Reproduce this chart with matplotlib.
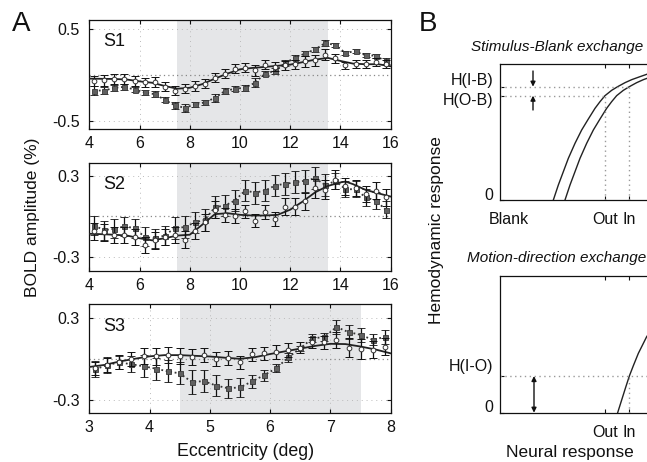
import matplotlib
matplotlib.use("Agg")
import matplotlib.pyplot as plt
import numpy as np

plt.rcParams['font.family'] = ['Liberation Sans', 'DejaVu Sans']

# ---------------- Panel A data ----------------
s1_x = [4.2, 4.6, 5.0, 5.4, 5.8, 6.2, 6.6, 7.0, 7.4, 7.8, 8.2, 8.6, 9.0, 9.4, 9.8,
        10.2, 10.6, 11.0, 11.4, 11.8, 12.2, 12.6, 13.0, 13.4, 13.8, 14.2, 14.6, 15.0, 15.4, 15.8]
s1_circ = [-0.066, -0.06, -0.044, -0.044, -0.066, -0.08, -0.077, -0.13, -0.17, -0.15,
           -0.12, -0.095, -0.03, 0.015, 0.07, 0.077, 0.05, 0.11, 0.09, 0.105,
           0.117, 0.15, 0.16, 0.22, 0.18, 0.105, 0.12, 0.12, 0.14, 0.12]
s1_circ_err = [0.06, 0.06, 0.05, 0.05, 0.05, 0.05, 0.05, 0.05, 0.05, 0.05,
               0.05, 0.05, 0.05, 0.05, 0.05, 0.05, 0.06, 0.05, 0.05, 0.05,
               0.05, 0.06, 0.06, 0.06, 0.05, 0.04, 0.04, 0.04, 0.04, 0.04]
s1_sq = [-0.17, -0.17, -0.14, -0.13, -0.16, -0.19, -0.21, -0.27, -0.33, -0.36,
         -0.32, -0.30, -0.25, -0.175, -0.15, -0.14, -0.085, 0.015, 0.045, 0.13,
         0.19, 0.235, 0.28, 0.35, 0.325, 0.24, 0.26, 0.215, 0.21, 0.15]
s1_sq_err = [0.05, 0.04, 0.03, 0.03, 0.03, 0.03, 0.03, 0.03, 0.04, 0.04,
             0.03, 0.03, 0.04, 0.03, 0.03, 0.03, 0.05, 0.03, 0.03, 0.03,
             0.03, 0.03, 0.03, 0.03, 0.02, 0.02, 0.02, 0.02, 0.02, 0.03]
s1_fit_x = [4.0, 4.5, 5.0, 5.5, 6.0, 6.5, 7.0, 7.5, 8.0, 8.5, 9.0, 9.5, 10.0, 10.5,
            11.0, 11.5, 12.0, 12.5, 13.0, 13.5, 14.0, 14.5, 15.0, 15.5, 16.0]
s1_fit = [-0.04, -0.042, -0.044, -0.05, -0.07, -0.085, -0.12, -0.15, -0.14, -0.10,
          -0.04, 0.015, 0.062, 0.077, 0.088, 0.10, 0.113, 0.14, 0.168, 0.186,
          0.153, 0.124, 0.117, 0.117, 0.095]

s2_x = s1_x
s2_circ = [-0.11, -0.117, -0.134, -0.134, -0.15, -0.21, -0.175, -0.15, -0.134, -0.17,
           -0.105, -0.044, 0.05, 0.012, 0.005, 0.037, -0.03, 0.032, -0.02, 0.073,
           0.073, 0.11, 0.207, 0.195, 0.27, 0.22, 0.207, 0.163, 0.19, 0.14]
s2_circ_err = [0.06, 0.06, 0.06, 0.06, 0.06, 0.06, 0.06, 0.06, 0.06, 0.06,
               0.06, 0.06, 0.06, 0.05, 0.05, 0.05, 0.05, 0.05, 0.05, 0.06,
               0.06, 0.06, 0.07, 0.07, 0.07, 0.06, 0.06, 0.06, 0.06, 0.06]
s2_sq = [-0.068, -0.10, -0.09, -0.073, -0.085, -0.15, -0.16, -0.14, -0.085, -0.078,
         -0.044, -0.024, 0.068, 0.08, 0.117, 0.19, 0.175, 0.19, 0.227, 0.24,
         0.25, 0.263, 0.28, 0.23, 0.26, 0.20, 0.20, 0.14, 0.117, 0.05]
s2_sq_err = [0.07, 0.07, 0.07, 0.07, 0.07, 0.07, 0.07, 0.07, 0.08, 0.08,
             0.08, 0.08, 0.08, 0.08, 0.08, 0.08, 0.08, 0.08, 0.08, 0.08,
             0.08, 0.08, 0.08, 0.08, 0.06, 0.06, 0.06, 0.06, 0.06, 0.06]
s2_fit_x = [4.0, 4.5, 5.0, 5.5, 6.0, 6.5, 7.0, 7.5, 8.0, 8.5, 9.0, 9.5, 10.0, 10.5,
            11.0, 11.5, 12.0, 12.5, 13.0, 13.5, 14.0, 14.2, 14.5, 15.0, 15.5, 16.0]
s2_fit = [-0.127, -0.13, -0.134, -0.14, -0.16, -0.175, -0.16, -0.14, -0.134, -0.06,
          0.017, 0.024, 0.012, 0.007, 0.007, 0.012, 0.05, 0.11, 0.178, 0.224,
          0.25, 0.256, 0.237, 0.195, 0.17, 0.146]

s3_x = [3.1, 3.3, 3.5, 3.7, 3.9, 4.1, 4.3, 4.5, 4.7, 4.9, 5.1, 5.3, 5.5, 5.7, 5.9,
        6.1, 6.3, 6.5, 6.7, 6.9, 7.1, 7.3, 7.5, 7.7, 7.9]
s3_circ = [-0.07, -0.045, -0.022, -0.002, 0.02, 0.017, 0.03, 0.022, 0.015, 0.027,
           -0.002, 0.007, -0.027, 0.032, 0.04, 0.052, 0.065, 0.08, 0.12, 0.12,
           0.14, 0.08, 0.072, 0.067, 0.09]
s3_circ_err = [0.05, 0.05, 0.05, 0.05, 0.06, 0.06, 0.06, 0.06, 0.06, 0.05,
               0.05, 0.05, 0.05, 0.05, 0.05, 0.05, 0.05, 0.04, 0.04, 0.05,
               0.06, 0.07, 0.07, 0.06, 0.06]
s3_sq = [-0.077, -0.045, -0.027, -0.04, -0.055, -0.072, -0.092, -0.107, -0.17, -0.164,
         -0.196, -0.216, -0.21, -0.166, -0.12, -0.07, 0.01, 0.077, 0.15, 0.16,
         0.233, 0.196, 0.176, 0.14, 0.16]
s3_sq_err = [0.06, 0.06, 0.05, 0.06, 0.08, 0.08, 0.08, 0.08, 0.09, 0.08,
             0.08, 0.07, 0.07, 0.05, 0.04, 0.03, 0.03, 0.02, 0.03, 0.03,
             0.05, 0.05, 0.05, 0.04, 0.05]
s3_fit_x = [3.0, 3.25, 3.5, 3.75, 4.0, 4.25, 4.5, 4.75, 5.0, 5.25, 5.5, 5.75, 6.0,
            6.25, 6.5, 6.75, 7.0, 7.25, 7.5, 7.75, 8.0]
s3_fit = [-0.06, -0.045, -0.02, 0.0, 0.018, 0.027, 0.027, 0.022, 0.017, 0.008, 0.0,
          0.012, 0.035, 0.055, 0.075, 0.095, 0.11, 0.108, 0.09, 0.068, 0.04]

subjects = ['S1', 'S2', 'S3']
xlims = [(4, 16), (4, 16), (3, 8)]
xticks_list = [[4, 6, 8, 10, 12, 14, 16], [4, 6, 8, 10, 12, 14, 16], [3, 4, 5, 6, 7, 8]]
ylims = [(-0.59, 0.6), (-0.4, 0.39), (-0.4, 0.4)]
yticks_list = [[-0.5, 0.5], [-0.3, 0.3], [-0.3, 0.3]]
ytick_labels = [['-0.5', '0.5'], ['-0.3', '0.3'], ['-0.3', '0.3']]
shade = [(7.5, 13.5), (7.5, 13.5), (4.5, 7.5)]

# ---------------- Panel B data ----------------
b_xticks = [0.45, 5.25, 6.467]
b_xlabels = ['Blank', 'Out', 'In']
curveA_x = [2.667, 2.917, 3.167, 3.417, 3.75, 4.083, 4.417, 4.75, 5.0, 5.25, 5.583,
            5.883, 6.25, 6.583, 7.0, 7.333, 8.083]
curveA_y = [0.0, 1.103, 2.083, 3.064, 4.167, 5.147, 5.956, 6.74, 7.23, 7.672, 8.064,
            8.333, 8.627, 8.848, 9.069, 9.24, 9.56]
curveB_x = [3.25, 3.5, 3.75, 4.0, 4.333, 4.667, 5.0, 5.333, 5.583, 5.833, 6.167,
            6.467, 6.833, 7.167, 7.583, 7.917, 8.667]
curveB_y = curveA_y
h_ob = 7.672
h_ib = 8.333
curveC_x = [5.883, 6.083, 6.283, 6.467, 6.667, 6.917, 7.167, 7.333, 7.75]
curveC_y = [0.0, 0.927, 1.853, 2.682, 3.438, 4.341, 5.072, 5.56, 6.41]
h_io = 2.682

W, H = 647, 462
fig = plt.figure(figsize=(W / 100, H / 100), dpi=100)

def ax_rect(l, t, r, b):
    return [l / W, 1 - b / H, (r - l) / W, (b - t) / H]

a_rects = [ax_rect(89.3, 20, 390.7, 129), ax_rect(89.3, 163.3, 390.7, 271),
           ax_rect(89.3, 304.3, 390.7, 413.3)]

data = [
    (s1_x, s1_circ, s1_circ_err, s1_sq, s1_sq_err, s1_fit_x, s1_fit),
    (s2_x, s2_circ, s2_circ_err, s2_sq, s2_sq_err, s2_fit_x, s2_fit),
    (s3_x, s3_circ, s3_circ_err, s3_sq, s3_sq_err, s3_fit_x, s3_fit),
]

tick_fs = 11.5
for i, rect in enumerate(a_rects):
    ax = fig.add_axes(rect)
    x, yc, ec, ys, es, fx, fy = data[i]
    ax.axvspan(shade[i][0], shade[i][1], color='#e5e6e8', zorder=0, lw=0)
    ax.axhline(0, color='#888888', ls=(0, (1, 2.5)), lw=0.9, zorder=1)
    ax.grid(True, color='#bbbbbb', ls=(0, (1, 4)), lw=0.7)
    ax.set_axisbelow(True)
    ax.plot(x, ys, ls=(0, (1, 1.5)), color='#333333', lw=1.3, zorder=2)
    ax.errorbar(x, ys, yerr=es, fmt='s', ms=3.6, mfc='#606060', mec='#383838', mew=0.6,
                ecolor='#111111', elinewidth=0.9, capsize=2.6, capthick=0.9, zorder=3)
    ax.plot(fx, fy, color='#222222', lw=1.3, zorder=4)
    ax.errorbar(x, yc, yerr=ec, fmt='o', ms=3.4, mfc='white', mec='#333333', mew=0.7,
                ecolor='#111111', elinewidth=0.9, capsize=2.6, capthick=0.9, zorder=5)
    ax.set_xlim(*xlims[i])
    ax.set_ylim(*ylims[i])
    ax.set_xticks(xticks_list[i])
    ax.set_yticks(yticks_list[i])
    ax.set_yticklabels(ytick_labels[i])
    ax.tick_params(direction='in', top=True, right=True, length=3, width=0.8,
                   labelsize=tick_fs, colors='#111111')
    ax.tick_params(axis='y', pad=7)
    ax.tick_params(axis='x', pad=5)
    for sp in ax.spines.values():
        sp.set_linewidth(0.9)
        sp.set_color('#111111')
    ax.text(0.045, 0.80, subjects[i], transform=ax.transAxes, fontsize=13,
            ha='left', va='center', color='#111111')

fig.text(33 / W, 1 - 217 / H, 'BOLD amplitude (%)', rotation=90, ha='center',
         va='center', fontsize=12.5, color='#111111')
fig.text(246 / W, 1 - 452 / H, 'Eccentricity (deg)', ha='center', va='center',
         fontsize=12.8, color='#111111')
fig.text(21 / W, 1 - 24 / H, 'A', ha='center', va='center', fontsize=20, color='#111111')
fig.text(428 / W, 1 - 24 / H, 'B', ha='center', va='center', fontsize=20, color='#111111')

def ylab(text, py):
    fig.text(493 / W, 1 - py / H, text, ha='right', va='center', fontsize=tick_fs,
             color='#111111')

# ---- Panel B top ----
bx = fig.add_axes(ax_rect(500, 64, 700, 200))
bx.set_xlim(0, 10)
bx.set_ylim(0, 10)
bx.plot(curveA_x, curveA_y, color='#222222', lw=1.0, clip_on=False)
bx.plot(curveB_x, curveB_y, color='#222222', lw=1.0, clip_on=False)
dot = dict(color='#999999', ls=(0, (1, 2.5)), lw=1.0)
bx.plot([0, 6.467], [h_ib, h_ib], **dot)
bx.plot([0, 5.25], [h_ob, h_ob], **dot)
bx.plot([5.25, 5.25], [0, h_ob], **dot)
bx.plot([6.467, 6.467], [0, h_ib], **dot)
bx.annotate('', xy=(1.65, h_ib), xytext=(1.65, 9.485),
            arrowprops=dict(arrowstyle='-|>', color='#111111', lw=1.0,
                            mutation_scale=7, shrinkA=0, shrinkB=0))
bx.annotate('', xy=(1.65, h_ob), xytext=(1.65, 6.618),
            arrowprops=dict(arrowstyle='-|>', color='#111111', lw=1.0,
                            mutation_scale=7, shrinkA=0, shrinkB=0))
bx.set_xticks(b_xticks)
bx.set_xticklabels(b_xlabels)
bx.set_yticks([0, h_ob, h_ib])
bx.set_yticklabels([])
bx.tick_params(direction='in', top=True, length=3, width=0.8, labelsize=tick_fs,
               colors='#111111')
bx.tick_params(axis='x', pad=9)
bx.get_xticklines()[0].set_visible(False)
bx.get_xticklines()[1].set_visible(False)
for sp in bx.spines.values():
    sp.set_linewidth(0.9)
    sp.set_color('#111111')
ylab('H(I-B)', 80)
ylab('H(O-B)', 101)
ylab('0', 195)
fig.text(557 / W, 1 - 47 / H, 'Stimulus-Blank exchange', style='italic', ha='center',
         va='center', fontsize=11, color='#111111')

# ---- Panel B bottom ----
cx = fig.add_axes(ax_rect(500, 276, 700, 412.7))
cx.set_xlim(0, 10)
cx.set_ylim(0, 10)
cx.plot(curveC_x, curveC_y, color='#222222', lw=1.0, clip_on=False)
cx.plot([0, 10], [h_io, h_io], **dot)
cx.plot([6.467, 6.467], [0, h_io], **dot)
cx.annotate('', xy=(1.7, h_io), xytext=(1.7, 0),
            arrowprops=dict(arrowstyle='<|-|>', color='#111111', lw=1.0,
                            mutation_scale=7, shrinkA=0, shrinkB=0))
cx.set_xticks([5.25, 6.467])
cx.set_xticklabels(['Out', 'In'])
cx.set_yticks([0, h_io])
cx.set_yticklabels([])
cx.tick_params(direction='in', top=True, length=3, width=0.8, labelsize=tick_fs,
               colors='#111111')
cx.tick_params(axis='x', pad=9)
for sp in cx.spines.values():
    sp.set_linewidth(0.9)
    sp.set_color('#111111')
ylab('H(I-O)', 367)
ylab('0', 407)
fig.text(557 / W, 1 - 258 / H, 'Motion-direction exchange', style='italic', ha='center',
         va='center', fontsize=11, color='#111111')
fig.text(570 / W, 1 - 453 / H, 'Neural response', ha='center', va='center',
         fontsize=12.5, color='#111111')
fig.text(436 / W, 1 - 230 / H, 'Hemodynamic response', rotation=90, ha='center',
         va='center', fontsize=12.5, color='#111111')

fig.savefig('out.png', dpi=100)
